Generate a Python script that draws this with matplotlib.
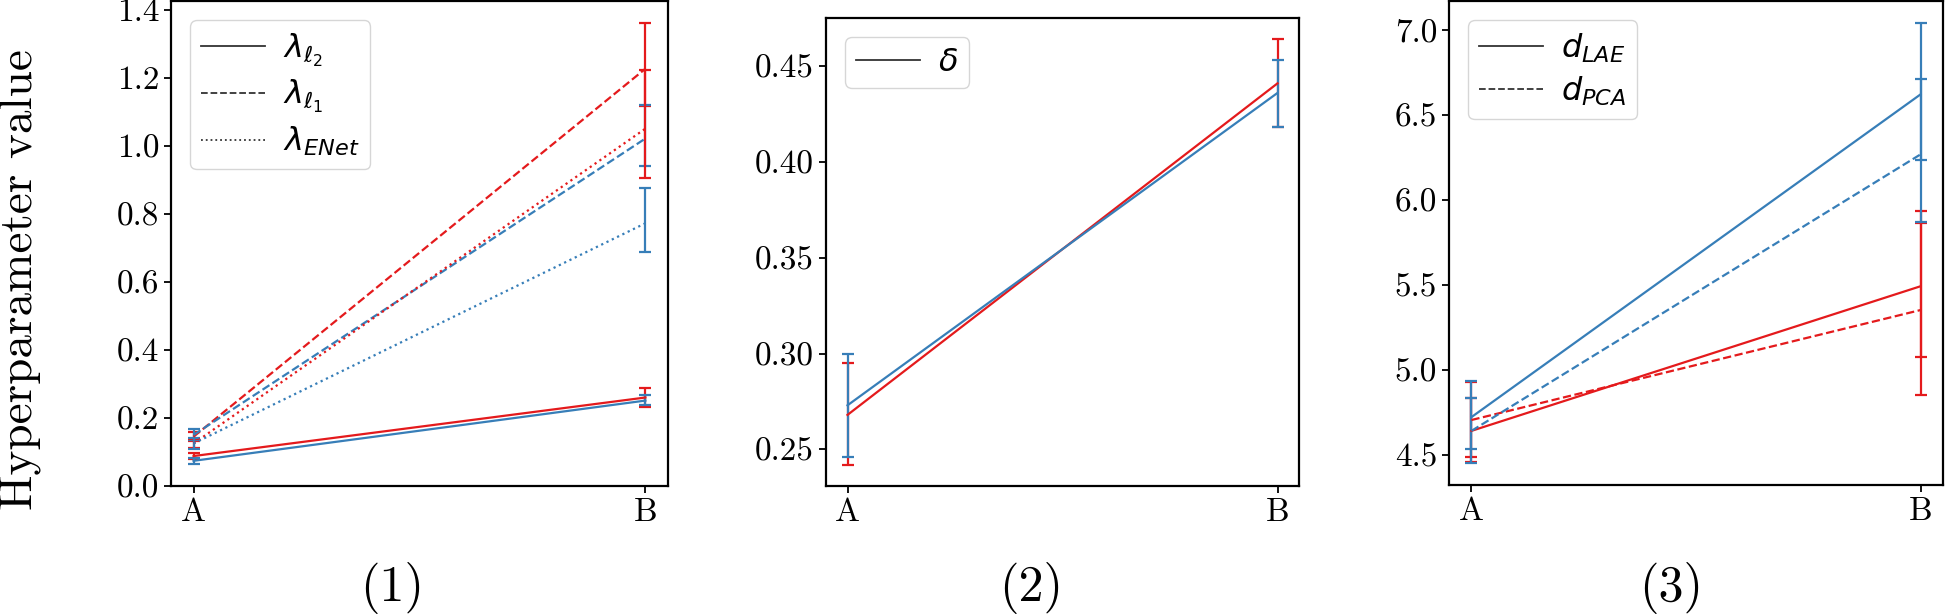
import matplotlib
matplotlib.use("Agg")
import matplotlib.pyplot as plt
import numpy as np

plt.rcParams['font.family'] = ['cmr10', 'DejaVu Sans']
plt.rcParams['mathtext.fontset'] = 'dejavusans'
plt.rcParams['axes.unicode_minus'] = False
plt.rcParams['axes.formatter.use_mathtext'] = True

categories = ['A', 'B']
RED = '#e41a1c'
BLUE = '#377eb8'

# Panel (1): lambda hyperparameters  (mean, lower err, upper err)
p1_red_l2 = [0.088, 0.260]
p1_red_l2_lo = [0.009, 0.028]
p1_red_l2_hi = [0.009, 0.028]
p1_blue_l2 = [0.074, 0.251]
p1_blue_l2_lo = [0.008, 0.012]
p1_blue_l2_hi = [0.008, 0.017]
p1_red_l1 = [0.145, 1.226]
p1_red_l1_lo = [0.013, 0.110]
p1_red_l1_hi = [0.013, 0.135]
p1_blue_l1 = [0.150, 1.021]
p1_blue_l1_lo = [0.015, 0.081]
p1_blue_l1_hi = [0.018, 0.097]
p1_red_en = [0.125, 1.050]
p1_red_en_lo = [0.012, 0.145]
p1_red_en_hi = [0.012, 0.171]
p1_blue_en = [0.125, 0.772]
p1_blue_en_lo = [0.016, 0.084]
p1_blue_en_hi = [0.015, 0.103]

# Panel (2): delta
p2_red = [0.268, 0.441]
p2_red_lo = [0.026, 0.023]
p2_red_hi = [0.027, 0.023]
p2_blue = [0.273, 0.436]
p2_blue_lo = [0.027, 0.018]
p2_blue_hi = [0.027, 0.017]

# Panel (3): d
p3_red_lae = [4.639, 5.490]
p3_red_lae_lo = [0.186, 0.417]
p3_red_lae_hi = [0.191, 0.441]
p3_blue_lae = [4.720, 6.619]
p3_blue_lae_lo = [0.189, 0.388]
p3_blue_lae_hi = [0.212, 0.420]
p3_red_pca = [4.703, 5.350]
p3_red_pca_lo = [0.220, 0.499]
p3_red_pca_hi = [0.223, 0.510]
p3_blue_pca = [4.639, 6.266]
p3_blue_pca_lo = [0.189, 0.397]
p3_blue_pca_hi = [0.191, 0.445]

W, H = 1946, 615
fig = plt.figure(figsize=(W / 100, H / 100), dpi=100)

def axes_px(l, r, t, b):
    return fig.add_axes([l / W, (H - b) / H, (r - l) / W, (b - t) / H])

ax1 = axes_px(171, 668, 1, 486)
ax2 = axes_px(826, 1299, 18, 486)
ax3 = axes_px(1449, 1943, 1, 485)

x = np.arange(len(categories))
LW = 1.6
CAP = 4

def eb(ax, y, lo, hi, color, ls):
    ax.errorbar(x, y, yerr=[lo, hi], color=color, linestyle=ls, lw=LW,
                elinewidth=LW, capsize=CAP, capthick=LW)

# panel 1
eb(ax1, p1_red_l2, p1_red_l2_lo, p1_red_l2_hi, RED, '-')
eb(ax1, p1_blue_l2, p1_blue_l2_lo, p1_blue_l2_hi, BLUE, '-')
eb(ax1, p1_red_l1, p1_red_l1_lo, p1_red_l1_hi, RED, '--')
eb(ax1, p1_blue_l1, p1_blue_l1_lo, p1_blue_l1_hi, BLUE, '--')
eb(ax1, p1_red_en, p1_red_en_lo, p1_red_en_hi, RED, ':')
eb(ax1, p1_blue_en, p1_blue_en_lo, p1_blue_en_hi, BLUE, ':')

# panel 2
eb(ax2, p2_red, p2_red_lo, p2_red_hi, RED, '-')
eb(ax2, p2_blue, p2_blue_lo, p2_blue_hi, BLUE, '-')

# panel 3
eb(ax3, p3_red_lae, p3_red_lae_lo, p3_red_lae_hi, RED, '-')
eb(ax3, p3_red_pca, p3_red_pca_lo, p3_red_pca_hi, RED, '--')
eb(ax3, p3_blue_lae, p3_blue_lae_lo, p3_blue_lae_hi, BLUE, '-')
eb(ax3, p3_blue_pca, p3_blue_pca_lo, p3_blue_pca_hi, BLUE, '--')

HC = '#333333'
def legend(ax, labels, styles):
    handles = [plt.Line2D([], [], color=HC, ls=s, lw=1.3) for s in styles]
    ax.legend(handles, labels, loc='upper left', fontsize=23,
              handlelength=2.0, handletextpad=0.55, labelspacing=0.3,
              borderpad=0.35, borderaxespad=0.6)

legend(ax1, [r'$\lambda_{\ell_2}$', r'$\lambda_{\ell_1}$', r'$\lambda_{ENet}$'],
       ['-', '--', ':'])
legend(ax2, [r'$\delta$'], ['-'])
legend(ax3, [r'$d_{LAE}$', r'$d_{PCA}$'], ['-', '--'])

ax1.set_yticks(np.arange(0, 1.41, 0.2))
ax1.set_yticklabels([f'{v:.1f}' for v in np.arange(0, 1.41, 0.2)])
ax2.set_yticks(np.arange(0.25, 0.451, 0.05))
ax2.set_yticklabels([f'{v:.2f}' for v in np.arange(0.25, 0.451, 0.05)])
ax3.set_yticks(np.arange(4.5, 7.01, 0.5))
ax3.set_yticklabels([f'{v:.1f}' for v in np.arange(4.5, 7.01, 0.5)])

for ax in (ax1, ax2, ax3):
    ax.set_xticks(x)
    ax.set_xticklabels(categories)
    ax.tick_params(labelsize=24, width=1.3, length=5)
    for sp in ax.spines.values():
        sp.set_linewidth(1.6)

ax1.set_ylim(0.0, 1.425)

fig.text(21 / W, 1 - 280 / H, 'Hyperparameter value', rotation=90,
         ha='center', va='center', fontsize=34)
for cx, lab in [(392, '(1)'), (1031, '(2)'), (1671, '(3)')]:
    fig.text(cx / W, 1 - 601 / H, lab, ha='center', va='baseline', fontsize=36)

fig.savefig('out.png', dpi=100)
